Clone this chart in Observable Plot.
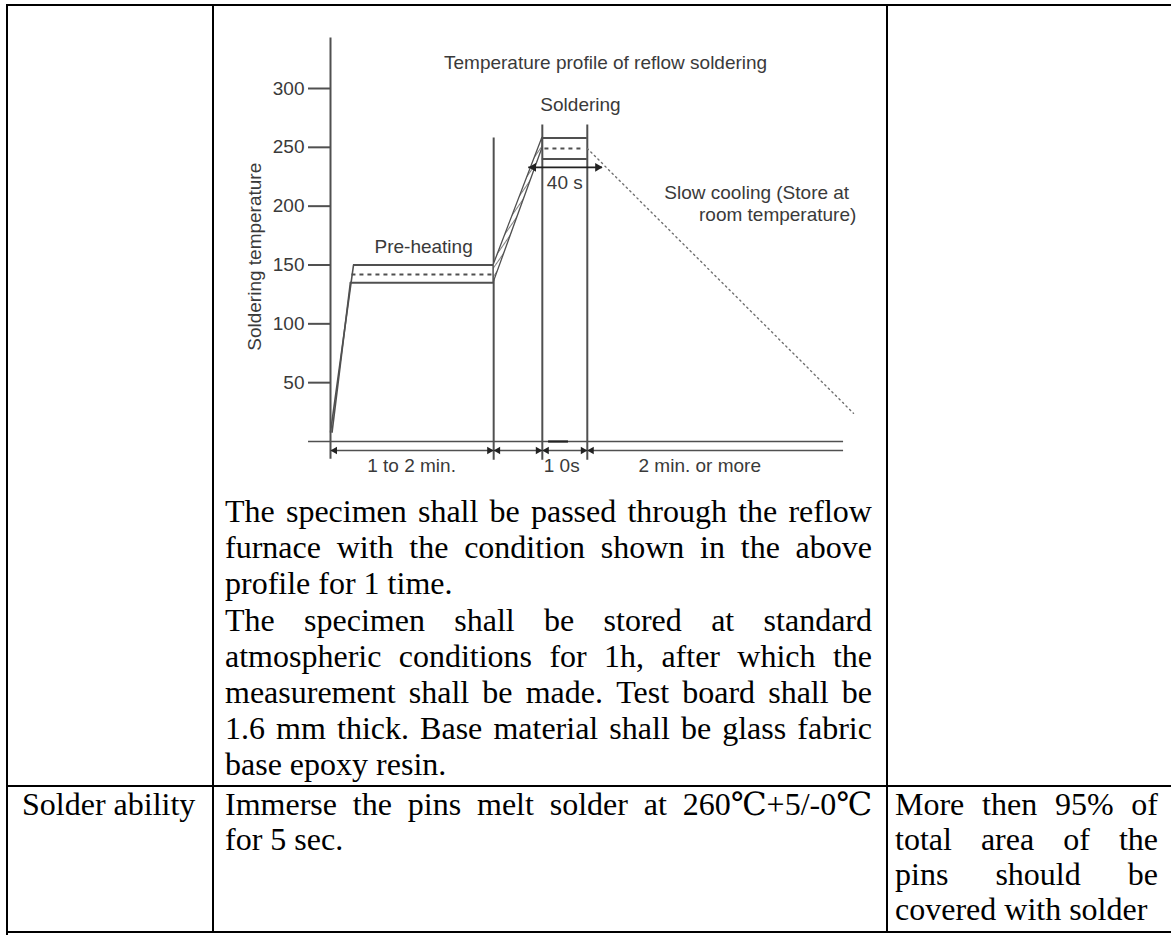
<!DOCTYPE html>
<html><head><meta charset="utf-8">
<script src="https://cdn.jsdelivr.net/npm/d3@7"></script>
<script src="https://cdn.jsdelivr.net/npm/@observablehq/plot@0.6"></script>
<style>
body{margin:0;background:#fff;}
#page{position:relative;width:1171px;height:935px;overflow:hidden;background:#fff;font-family:"Liberation Serif","Times New Roman","DejaVu Serif",serif;font-size:32px;color:#000;}
.b{position:absolute;background:#000;}
.ln{position:absolute;white-space:nowrap;}
.just{display:flex;justify-content:space-between;}
#chart{position:absolute;left:213px;top:5px;}
</style></head><body><div id="page"><div id="chart"></div></div>
<script>
// ---------- chart data (schematic time units t, temperature in °C) ----------
const yTicks = [50, 100, 150, 200, 250, 300];
const phaseLines = [            // vertical boundary lines
  {t: 0,    bottom: -15, top: 343},
  {t: 31.2, bottom: -16, top: 258},
  {t: 40.5, bottom: -16, top: 269},
  {t: 49.1, bottom: -16, top: 269}
];
const baseline = [{temp: 0, t1: -4.2, t2: 98.1}];
const dimLine = [{temp: -7.7, t1: 0, t2: 98.1}];
const dimHeadsLeft = [0, 31.2, 40.5, 49.1];   // arrow tips pointing left
const dimHeadsRight = [31.2, 40.5, 49.1];     // arrow tips pointing right
const dimTemp = -7.7;
const baseMark = [{temp: 0, t1: 41.7, t2: 45.5}];
const rampUpper = [{t: 0, temp: 8}, {t: 4.4, temp: 150}];
const rampLower = [{t: 0.3, temp: 8}, {t: 3.8, temp: 135}];
const preheatLevels = [
  {temp: 150, t1: 4.4, t2: 31.2, dashed: false},
  {temp: 142, t1: 4.1, t2: 31.2, dashed: true},
  {temp: 135, t1: 3.8, t2: 31.2, dashed: false}
];
const solderLevels = [
  {temp: 258, t1: 40.5, t2: 49.1, dashed: false},
  {temp: 249, t1: 41.0, t2: 48.6, dashed: true},
  {temp: 240, t1: 40.5, t2: 49.1, dashed: false}
];
const heatBand = [{t: 31.2, lo: 135, hi: 150}, {t: 40.5, lo: 249, hi: 258}];
const cooling = [{t: 49.1, temp: 249}, {t: 100, temp: 24}];
const holdArrow = [{temp: 233, t1: 37.9, t2: 52.0}];
const holdHeadsLeft = [37.9];
const holdHeadsRight = [52.0];
const holdTemp = 233;
const chartTexts = [
  {t: 52.6, temp: 321.4, text: "Temperature profile of reflow soldering"},
  {t: 47.8, temp: 285.7, text: "Soldering"},
  {t: 17.8, temp: 165.8, text: "Pre-heating"},
  {t: 44.8, temp: 219.4, text: "40 s"},
  {t: 81.5, temp: 210.9, text: "Slow cooling (Store at"},
  {t: 85.5, temp: 192.2, text: "room temperature)"},
  {t: 15.5, temp: -20.4, text: "1 to 2 min."},
  {t: 44.2, temp: -20.4, text: "1 0s"},
  {t: 70.6, temp: -20.4, text: "2 min. or more"}
];
const yTitle = [{t: -14.5, temp: 157, text: "Soldering temperature"}];

// ---------- table text ----------
const descLines = [
  "The specimen shall be passed through the reflow",
  "furnace with the condition shown in the above",
  "profile for 1 time.",
  "The specimen shall be stored at standard",
  "atmospheric conditions for 1h, after which the",
  "measurement shall be made. Test board shall be",
  "1.6 mm thick. Base material shall be glass fabric",
  "base epoxy resin."
];
const descJust = [true, true, false, true, true, true, true, false];
const itemName = ["Solder ability"];
const methodLines = ["Immerse the pins melt solder at 260℃+5/-0℃", "for 5 sec."];
const methodJust = [true, false];
const reqLines = ["More then 95% of", "total area of the", "pins should be", "covered with solder"];
const reqJust = [true, true, true, false];

// ---------- draw chart ----------
const lc = "#505050", tc = "#3a3a3a";
const chart = Plot.plot({
  width: 673, height: 470,
  marginLeft: 117, marginRight: 33, marginTop: 83, marginBottom: 34,
  x: {domain: [0, 100], axis: null},
  y: {domain: [0, 300]},
  style: {background: "transparent", fontFamily: "'Liberation Sans', Arial, sans-serif", fontSize: "19px", overflow: "visible"},
  marks: [
    Plot.axisY(yTicks, {tickSize: 22, tickPadding: 4, fontSize: 19, strokeWidth: 2, stroke: lc, fill: tc, label: null, tickFormat: d => String(d)}),
    Plot.ruleX(phaseLines, {x: "t", y1: "bottom", y2: "top", stroke: lc, strokeWidth: 2}),
    Plot.ruleY(baseline, {y: "temp", x1: "t1", x2: "t2", stroke: lc, strokeWidth: 1.6}),
    Plot.ruleY(baseMark, {y: "temp", x1: "t1", x2: "t2", stroke: "#222", strokeWidth: 2.2}),
    Plot.ruleY(dimLine, {y: "temp", x1: "t1", x2: "t2", stroke: lc, strokeWidth: 1.6}),
    Plot.dot(dimHeadsLeft, {x: d => d, y: () => dimTemp, symbol: "triangle", r: 2.8, fill: "#222", stroke: null, rotate: -90, dx: 4.3}),
    Plot.dot(dimHeadsRight, {x: d => d, y: () => dimTemp, symbol: "triangle", r: 2.8, fill: "#222", stroke: null, rotate: 90, dx: -4.3}),
    Plot.line(rampUpper, {x: "t", y: "temp", stroke: lc, strokeWidth: 1.6}),
    Plot.line(rampLower, {x: "t", y: "temp", stroke: lc, strokeWidth: 1.6}),
    Plot.ruleY(preheatLevels.filter(d => !d.dashed), {y: "temp", x1: "t1", x2: "t2", stroke: lc, strokeWidth: 2}),
    Plot.ruleY(preheatLevels.filter(d => d.dashed), {y: "temp", x1: "t1", x2: "t2", stroke: lc, strokeWidth: 2, strokeDasharray: "4,4"}),
    Plot.ruleY(solderLevels.filter(d => !d.dashed), {y: "temp", x1: "t1", x2: "t2", stroke: lc, strokeWidth: 2}),
    Plot.ruleY(solderLevels.filter(d => d.dashed), {y: "temp", x1: "t1", x2: "t2", stroke: lc, strokeWidth: 2, strokeDasharray: "4,4"}),
    Plot.areaY(heatBand, {x: "t", y1: "lo", y2: "hi", fill: "url(#hatch)", stroke: lc, strokeWidth: 1.3}),
    Plot.line(cooling, {x: "t", y: "temp", stroke: "#707070", strokeWidth: 1.4, strokeDasharray: "1.4,3.6"}),
    Plot.ruleY(holdArrow, {y: "temp", x1: "t1", x2: "t2", stroke: "#222", strokeWidth: 1.8}),
    Plot.dot(holdHeadsLeft, {x: d => d, y: () => holdTemp, symbol: "triangle", r: 3.2, fill: "#222", stroke: null, rotate: -90, dx: 4.8}),
    Plot.dot(holdHeadsRight, {x: d => d, y: () => holdTemp, symbol: "triangle", r: 3.2, fill: "#222", stroke: null, rotate: 90, dx: -4.8}),
    Plot.text(chartTexts, {x: "t", y: "temp", text: "text", fill: tc, fontSize: 19}),
    Plot.text(yTitle, {x: "t", y: "temp", text: "text", fill: tc, fontSize: 19, rotate: -90})
  ]
});
// hatch pattern for the heating band
const ns = "http://www.w3.org/2000/svg";
const defs = document.createElementNS(ns, "defs");
defs.innerHTML = '<pattern id="hatch" patternUnits="userSpaceOnUse" width="5" height="5" patternTransform="rotate(35)"><rect width="5" height="5" fill="#fff"/><line x1="0" y1="0" x2="0" y2="5" stroke="#606060" stroke-width="1.6"/></pattern>';
chart.insertBefore(defs, chart.firstChild);
document.getElementById("chart").appendChild(chart);

// ---------- draw table ----------
const page = document.getElementById("page");
function box(l, t, w, h) {
  const d = document.createElement("div");
  d.className = "b";
  Object.assign(d.style, {left: l + "px", top: t + "px", width: w + "px", height: h + "px"});
  page.appendChild(d);
}
box(6, 4, 1165, 2);     // top
box(6, 4, 2, 931);      // left
box(212, 4, 2, 929);    // col divider 1
box(886, 4, 2, 929);    // col divider 2
box(6, 785, 1165, 2);   // row divider
box(6, 931, 1165, 2);   // bottom

function lines(arr, just, left, top, width, pitch) {
  arr.forEach((s, i) => {
    const d = document.createElement("div");
    d.className = "ln" + (just[i] ? " just" : "");
    Object.assign(d.style, {left: left + "px", top: (top + i * pitch) + "px", width: width + "px", height: pitch + "px", lineHeight: pitch + "px"});
    if (just[i]) {
      s.split(" ").forEach(w => { const sp = document.createElement("span"); sp.textContent = w; d.appendChild(sp); });
    } else d.textContent = s;
    page.appendChild(d);
  });
}
lines(descLines, descJust, 225, 493, 647, 36.2);
lines(itemName, [false], 22, 787, 185, 35);
lines(methodLines, methodJust, 225, 787, 647, 35);
lines(reqLines, reqJust, 895, 787, 263, 35);
</script></body></html>
